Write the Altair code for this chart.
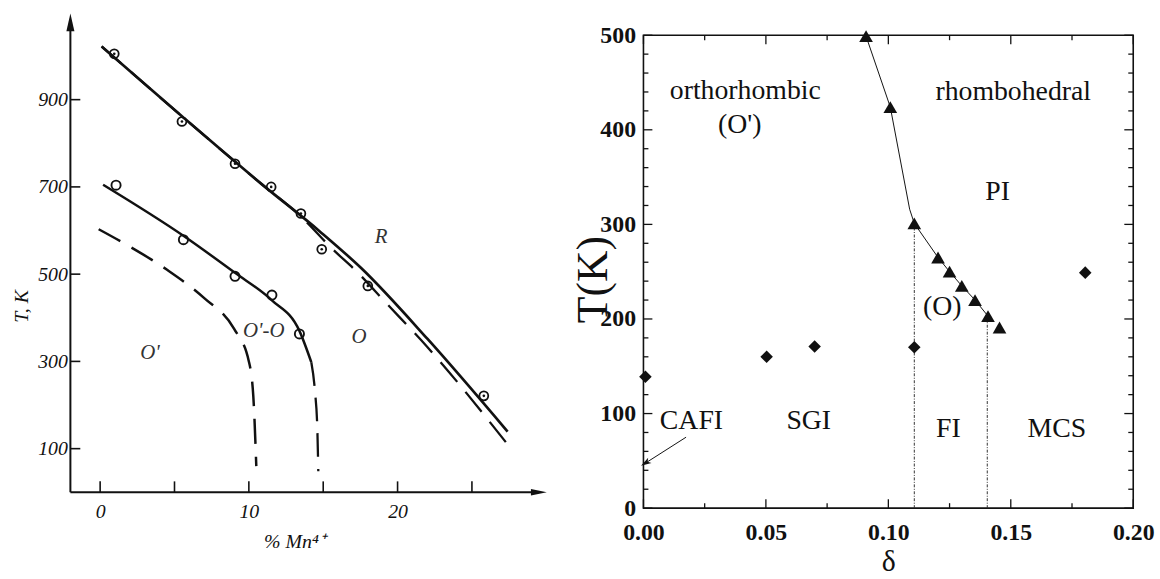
import altair as alt
import pandas as pd

# ---------------- left panel: T, K versus % Mn4+ ----------------
# R boundary (solid fit and dashed companion) with measured points
r_line_x = [0.1, 5.5, 10.84, 14.77, 17.55, 22.0, 27.4]
r_line_t = [1022, 862, 707, 598, 514, 352, 139]
r_dash_x = [0.1, 5.5, 10.84, 13.5, 15.67, 17.22, 19.2, 22.0, 27.3]
r_dash_t = [1022, 862, 707, 632, 556, 507, 435, 333, 114]
r_pts_x = [0.95, 5.5, 9.07, 11.5, 13.5, 14.9, 18.0, 25.8]
r_pts_t = [1005, 850, 753, 700, 639, 557, 473, 221]

# O'-O / O boundary: solid part with points, dashed low-temperature part
oo_line_x = [0.2, 5.6, 9.07, 11.55, 13.4, 14.2]
oo_line_t = [705, 588, 503, 440, 370, 298]
oo_dash_x = [14.2, 14.45, 14.6, 14.67]
oo_dash_t = [298, 230, 150, 48]
oo_pts_x = [1.07, 5.6, 9.07, 11.55, 13.4]
oo_pts_t = [704, 579, 495, 452, 363]

# O' / O'-O boundary (dashed)
op_dash_x = [-0.1, 2.0, 4.5, 7.0, 9.0, 10.0, 10.3, 10.5]
op_dash_t = [603, 563, 510, 445, 375, 300, 220, 60]

left_text = ["R", "O", "O'-O", "O'"]
left_text_x = [18.9, 17.4, 11.0, 3.35]
left_text_t = [586, 355, 370, 320]

left_x_ticks = [0, 5, 10, 15, 20, 25]
left_x_labels = [0, 10, 20]
left_y_ticks = [100, 300, 500, 700, 900]
left_axis_origin = [-2, 0]
left_axis_ends = [29.5, 1077]   # arrow heads on the x and T axes

# ---------------- right panel: T(K) versus delta ----------------
tri_d = [0.0909, 0.1008, 0.1106, 0.1203, 0.125, 0.130, 0.1354, 0.1407, 0.1454]
tri_t = [499, 424, 301, 265, 250, 235, 220, 203, 191]
dia_d = [0.0008, 0.0503, 0.0699, 0.1106, 0.1804]
dia_t = [139, 160, 171, 170, 249]
bound_d = [0.0909, 0.1008, 0.1087, 0.1106, 0.1203, 0.125, 0.130, 0.1354, 0.1407]
bound_t = [499, 424, 316, 301, 265, 250, 235, 220, 203]
vline_d = [0.1106, 0.1404]
vline_t = [301, 203]
cafi_arrow_d = [0.0174, 0.0008]
cafi_arrow_t = [75, 47.6]

right_text = ["orthorhombic", "(O')", "rhombohedral", "PI", "(O)",
              "CAFI", "SGI", "FI", "MCS"]
right_text_d = [0.0416, 0.0393, 0.151, 0.1446, 0.122, 0.0196, 0.0675, 0.1245, 0.1688]
right_text_t = [441, 405, 440, 334, 213, 92, 92, 84, 84]

right_x_major = [0, 0.05, 0.10, 0.15, 0.20]
right_x_minor = [0.025, 0.075, 0.125, 0.175]
right_y_major = [0, 100, 200, 300, 400, 500]
right_y_minor = [20, 40, 60, 80, 120, 140, 160, 180, 220, 240, 260, 280,
                 320, 340, 360, 380, 420, 440, 460, 480]


def xy(x, y):
    return pd.DataFrame({"x": x, "y": y})


INK = "#111111"
LF = "Liberation Sans Narrow"
SERIF = "Liberation Serif"

# ================= left chart =================
LW, LH = 480, 461
xl = alt.Scale(domain=[-2, 30], nice=False, zero=False)
yl = alt.Scale(domain=[0, 1047.7], nice=False, zero=False)

x_axis_l = alt.Axis(values=left_x_labels, domain=False, ticks=False, grid=False,
                    labelFont=LF, labelFontStyle="italic", labelFontSize=20,
                    labelColor=INK, labelPadding=9, labelFlush=False,
                    title="% Mn⁴⁺", titleFont=LF, titleFontStyle="italic",
                    titleFontWeight="normal", titleFontSize=20, titleColor=INK,
                    titleX=226, titleY=50, titleAlign="center", titleBaseline="middle")
y_axis_l = alt.Axis(values=left_y_ticks, domain=False, ticks=False, grid=False,
                    labelFont=LF, labelFontStyle="italic", labelFontSize=20,
                    labelColor=INK, labelPadding=3,
                    title="T, K", titleFont=LF, titleFontStyle="italic",
                    titleFontWeight="normal", titleFontSize=20, titleColor=INK,
                    titleX=-49, titleY=273, titleAngle=270,
                    titleAlign="center", titleBaseline="middle")

axes_df = pd.DataFrame({
    "x": [left_axis_origin[0], left_axis_origin[0]],
    "y": [left_axis_origin[1], left_axis_origin[1]],
    "x2": [left_axis_origin[0], left_axis_ends[0]],
    "y2": [left_axis_ends[1], left_axis_origin[1]],
})
l_axes = alt.Chart(axes_df).mark_rule(color=INK, strokeWidth=2).encode(
    x=alt.X("x:Q", scale=xl, axis=x_axis_l),
    y=alt.Y("y:Q", scale=yl, axis=y_axis_l),
    x2="x2:Q", y2="y2:Q",
)
l_arrow_up = alt.Chart(xy([left_axis_origin[0]], [left_axis_ends[1]])).mark_point(
    shape="M0,-1L0.45,1L-0.45,1Z", filled=True, size=324, color=INK, opacity=1
).encode(x="x:Q", y="y:Q")
l_arrow_right = alt.Chart(xy([left_axis_ends[0]], [left_axis_origin[1]])).mark_point(
    shape="M1,0L-1,-0.4L-1,0.4Z", filled=True, size=256, color=INK, opacity=1
).encode(x="x:Q", y="y:Q")
l_xticks = alt.Chart(pd.DataFrame({"x": left_x_ticks})).mark_rule(
    color=INK, strokeWidth=1.6).encode(x="x:Q", y=alt.value(LH), y2=alt.value(LH - 11))
l_yticks = alt.Chart(pd.DataFrame({"y": left_y_ticks})).mark_rule(
    color=INK, strokeWidth=1.6).encode(y="y:Q", x=alt.value(0), x2=alt.value(10))


def curve(x, y, width, dash=None):
    kw = dict(color=INK, strokeWidth=width, interpolate="monotone")
    if dash:
        kw["strokeDash"] = dash
    return alt.Chart(xy(x, y)).mark_line(**kw).encode(x="x:Q", y="y:Q", order="x:Q")


l_r_line = curve(r_line_x, r_line_t, 2.7)
l_r_dash = curve(r_dash_x, r_dash_t, 2.3, [26, 13])
l_oo_line = curve(oo_line_x, oo_line_t, 2.5)
l_oo_dash = curve(oo_dash_x, oo_dash_t, 2.3, [24, 12])
l_op_dash = curve(op_dash_x, op_dash_t, 2.5, [25, 13])

l_r_pts = alt.Chart(xy(r_pts_x, r_pts_t)).mark_point(
    shape="circle", filled=False, size=80, color=INK, strokeWidth=1.8, opacity=1
).encode(x="x:Q", y="y:Q")
l_r_dots = alt.Chart(xy(r_pts_x, r_pts_t)).mark_point(
    shape="circle", filled=True, size=7, color=INK, opacity=1
).encode(x="x:Q", y="y:Q")
l_oo_pts = alt.Chart(xy(oo_pts_x, oo_pts_t)).mark_point(
    shape="circle", filled=False, size=85, color=INK, strokeWidth=1.9, opacity=1
).encode(x="x:Q", y="y:Q")

l_text = alt.Chart(pd.DataFrame({"x": left_text_x, "y": left_text_t, "s": left_text})).mark_text(
    font=LF, fontStyle="italic", fontSize=21, color="#333333"
).encode(x="x:Q", y="y:Q", text="s:N")

left = alt.layer(
    l_axes, l_arrow_up, l_arrow_right, l_xticks, l_yticks,
    l_op_dash, l_oo_dash, l_oo_line, l_r_dash, l_r_line,
    l_r_pts, l_r_dots, l_oo_pts, l_text,
).properties(width=LW, height=LH)

# ================= right chart =================
RW, RH = 494, 477
xr = alt.Scale(domain=[0, 0.2], nice=False, zero=False)
yr = alt.Scale(domain=[0, 500], nice=False, zero=False)

x_axis_r = alt.Axis(values=right_x_major, format=".2f", domain=False, ticks=False,
                    grid=False, labelFont=SERIF, labelFontSize=24, labelFontWeight="bold",
                    labelColor=INK, labelPadding=13, labelFlush=False,
                    labelOverlap=False,
                    title="δ", titleFont=SERIF, titleFontSize=30,
                    titleFontWeight="normal", titleColor=INK, titleX=247, titleY=54,
                    titleAlign="center", titleBaseline="middle")
y_axis_r = alt.Axis(values=right_y_major, domain=False, ticks=False, grid=False,
                    labelFont=SERIF, labelFontSize=24, labelFontWeight="bold",
                    labelColor=INK, labelPadding=8, labelFlush=False,
                    title="T(K)", titleFont=SERIF, titleFontSize=44,
                    titleFontWeight="normal", titleColor=INK, titleX=-50, titleY=246,
                    titleAngle=270, titleAlign="center", titleBaseline="middle")

r_bound = alt.Chart(xy(bound_d, bound_t)).mark_line(color=INK, strokeWidth=1).encode(
    x=alt.X("x:Q", scale=xr, axis=x_axis_r),
    y=alt.Y("y:Q", scale=yr, axis=y_axis_r),
    order="x:Q",
)
r_vlines = alt.Chart(pd.DataFrame({"x": vline_d, "y": [0, 0], "y2": vline_t})).mark_rule(
    color="#333333", strokeWidth=1, strokeDash=[3, 1.5, 1, 1.5]
).encode(x="x:Q", y="y:Q", y2="y2:Q")
r_tri = alt.Chart(xy(tri_d, tri_t)).mark_point(
    shape="triangle-up", filled=True, size=190, color=INK, opacity=1
).encode(x="x:Q", y="y:Q")
r_dia = alt.Chart(xy(dia_d, dia_t)).mark_point(
    shape="diamond", filled=True, size=160, color=INK, opacity=1
).encode(x="x:Q", y="y:Q")
r_arrow_line = alt.Chart(xy(cafi_arrow_d, cafi_arrow_t)).mark_line(
    color=INK, strokeWidth=1).encode(x="x:Q", y="y:Q", order=alt.value(0))
r_arrow_head = alt.Chart(xy(cafi_arrow_d[1:], cafi_arrow_t[1:])).mark_point(
    shape="M0,-1L0.6,1L0,0.5L-0.6,1Z", filled=True, size=110, angle=238,
    color=INK, opacity=1
).encode(x="x:Q", y="y:Q")
r_text = alt.Chart(pd.DataFrame({"x": right_text_d, "y": right_text_t, "s": right_text})).mark_text(
    font=SERIF, fontSize=28, color=INK
).encode(x="x:Q", y="y:Q", text="s:N")


def xticks(vals, length, top):
    y0 = 0 if top else RH
    y1 = length if top else RH - length
    return alt.Chart(pd.DataFrame({"x": vals})).mark_rule(color=INK, strokeWidth=1.3).encode(
        x="x:Q", y=alt.value(y0), y2=alt.value(y1))


def yticks(vals, length, right):
    x0 = RW if right else 0
    x1 = RW - length if right else length
    return alt.Chart(pd.DataFrame({"y": vals})).mark_rule(color=INK, strokeWidth=1.3).encode(
        y="y:Q", x=alt.value(x0), x2=alt.value(x1))


r_ticks = [
    xticks(right_x_major, 9, False), xticks(right_x_minor, 5, False),
    xticks(right_x_major, 9, True), xticks(right_x_minor, 5, True),
    yticks(right_y_major, 9, False), yticks(right_y_minor, 5, False),
    yticks(right_y_major, 9, True), yticks(right_y_minor, 5, True),
]

right = alt.layer(
    r_bound, *r_ticks, r_vlines, r_arrow_line, r_arrow_head, r_tri, r_dia, r_text,
).properties(
    width=RW, height=RH,
    view=alt.ViewBackground(stroke=INK, strokeWidth=1.6, fill="white"),
)

chart = alt.hconcat(left, right, spacing=98, bounds="flush").properties(
    padding={"left": 11, "top": 10, "right": 5, "bottom": 5},
    background="white",
).configure_view(stroke="transparent")

chart.save("out.html", embed_options={"renderer": "svg", "actions": False})
